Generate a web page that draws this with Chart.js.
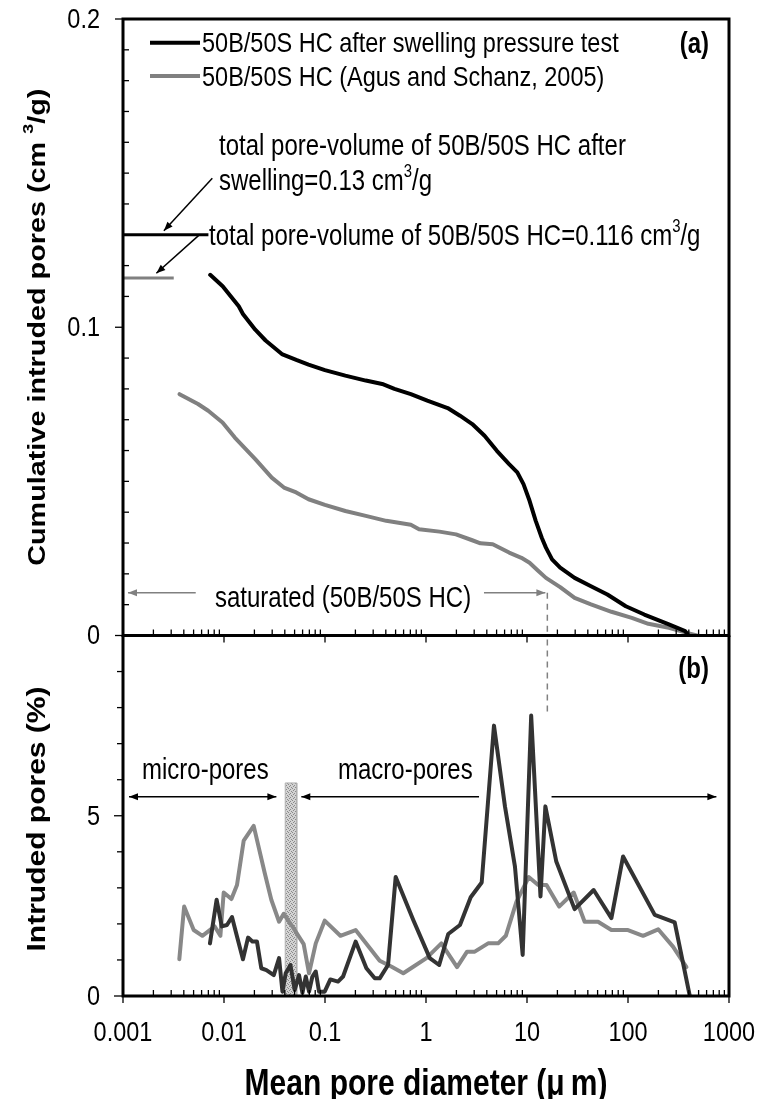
<!DOCTYPE html>
<html>
<head>
<meta charset="utf-8">
<script src="https://cdn.jsdelivr.net/npm/chart.js@4.4.1/dist/chart.umd.min.js"></script>
<style>
  html, body { margin: 0; padding: 0; background: #fff; }
  #wrap { position: relative; width: 760px; height: 1099px; }
  canvas { position: absolute; left: 0; top: 0; }
</style>
</head>
<body>
<div id="wrap">
  <canvas id="cumChart" width="760" height="1099"></canvas>
  <canvas id="incChart" width="760" height="1099"></canvas>
</div>
<script>
// Axis ticks
const X_MAJOR = [0.001, 0.01, 0.1, 1, 10, 100, 1000];
const X_LABELS = ['0.001', '0.01', '0.1', '1', '10', '100', '1000'];
const CUM_MAJOR = [0, 0.1, 0.2];
const CUM_LABELS = ['0', '0.1', '0.2'];
const INC_MAJOR = [0, 5];
const INC_LABELS = ['0', '5'];

// (a) cumulative intruded pores (cm3/g) vs mean pore diameter (um)
const swellCumX = [0.0073, 0.0097, 0.0140, 0.0154, 0.0204, 0.0258, 0.0374, 0.0519, 0.0687, 0.0998,
  0.159, 0.2535, 0.368, 0.487, 0.708, 1.03, 1.64, 2.17, 2.87, 3.80, 5.03, 6.65, 8.02, 9.23, 10.6,
  12.2, 14.0, 15.4, 17.7, 21.3, 29.6, 43.0, 62.5, 95.1, 145, 254, 368, 395];
const swellCumY = [0.117, 0.1133, 0.1068, 0.1043, 0.0992, 0.0957, 0.0913, 0.0894, 0.0879, 0.0861,
  0.0843, 0.0827, 0.0816, 0.0800, 0.0783, 0.0762, 0.0738, 0.0713, 0.0686, 0.0648, 0.0599, 0.0556, 0.0529, 0.0491, 0.0437,
  0.0372, 0.0317, 0.0285, 0.0247, 0.0220, 0.0187, 0.0160, 0.0133, 0.0095, 0.0068, 0.0036, 0.0014, 0];
const agusCumX = [0.00363, 0.00418, 0.00553, 0.00698, 0.00967, 0.0128, 0.0204, 0.0297, 0.0392, 0.0519,
  0.0687, 0.0998, 0.159, 0.2535, 0.404, 0.708, 0.853, 1.36, 1.98, 2.87, 3.46, 4.58, 6.65, 8.8, 10.6,
  12.8, 15.4, 21.3, 29.6, 43, 68.6, 109, 159, 254, 400, 480];
const agusCumY = [0.0783, 0.0772, 0.0751, 0.0729, 0.0691, 0.0642, 0.0572, 0.0512, 0.0480, 0.0464,
  0.0442, 0.0424, 0.0404, 0.0388, 0.0372, 0.0359, 0.0345, 0.0337, 0.0328, 0.0309, 0.0299, 0.0296, 0.0269, 0.0252, 0.0236,
  0.0211, 0.0187, 0.0157, 0.0122, 0.0101, 0.0077, 0.0057, 0.0038, 0.0025, 0.0007, 0];

// (b) intruded pores (%) vs mean pore diameter (um)
const swellIncX = [0.00726, 0.00845, 0.0095, 0.0107, 0.0120, 0.01345, 0.0154, 0.0173, 0.0191, 0.0212,
  0.0234, 0.0263, 0.0311, 0.0351, 0.0379, 0.0408, 0.0455, 0.0501, 0.0553, 0.0598, 0.0645, 0.0695, 0.075,
  0.081, 0.0873, 0.0993, 0.113, 0.1345, 0.151, 0.201, 0.257, 0.311, 0.348, 0.421, 0.501, 0.748, 1.09,
  1.35, 1.66, 2.17, 2.77, 3.56, 4.71, 6.05, 7.60, 9.06, 11.0, 13.6, 15.2, 19.5, 29.6, 45.7, 68.5, 89.4,
  184, 290, 409];
const swellIncY = [1.46, 2.67, 1.93, 1.97, 2.19, 1.65, 1.02, 1.62, 1.51, 1.51,
  0.77, 0.72, 0.58, 1.05, 0.12, 0.63, 0.86, 0.17, 0.58, 0.09, 0.54, 0.12, 0.54,
  0.68, 0.12, 0.12, 0.46, 0.40, 0.54, 1.51, 0.77, 0.49, 0.49, 0.86, 3.30, 2.11, 1.05,
  0.86, 1.72, 1.97, 2.74, 3.15, 7.50, 5.26, 3.59, 1.14, 7.78, 2.76, 5.26, 3.73, 2.41, 2.94, 2.16, 3.87,
  2.25, 2.04, 0];
const agusIncX = [0.00361, 0.00403, 0.00501, 0.00611, 0.00809, 0.00921, 0.00993, 0.01184, 0.01345, 0.01567,
  0.01968, 0.0253, 0.0294, 0.0351, 0.039, 0.0475, 0.0615, 0.0695, 0.081, 0.0993, 0.142, 0.201, 0.348,
  0.457, 0.596, 0.748, 1.01, 1.42, 2.03, 2.55, 3.04, 4.12, 5.18, 6.17, 7.87, 10.4, 12.9, 15.6, 20.8,
  29.0, 37.2, 50.5, 68.5, 100, 141, 199, 279, 379];
const agusIncY = [1.02, 2.48, 1.83, 1.67, 1.93, 1.67, 2.87, 2.69, 3.08, 4.31,
  4.72, 3.41, 2.67, 2.06, 2.28, 1.93, 1.44, 0.63, 1.46, 2.09, 1.67, 1.83, 0.98,
  0.81, 0.63, 0.81, 1.05, 1.46, 0.80, 1.23, 1.23, 1.46, 1.46, 1.67, 2.62, 3.30, 3.08, 3.08, 2.48,
  2.87, 2.06, 2.06, 1.83, 1.83, 1.67, 1.85, 1.37, 0.80];

// reference values marked on the plots
const TOTAL_SWELL = 0.13;
const TOTAL_AGUS = 0.116;
const SAT_LIMIT = 15.9;          // upper end of the saturated range (um)
const BOUNDARY_X = [0.0404, 0.0525];
const BOUNDARY_TOP = 5.91;

const FONT = '"Liberation Sans", Arial, Helvetica, sans-serif';
const STRETCH = 1.2;

const pts = (xs, ys) => xs.map((v, i) => ({ x: v, y: ys[i] }));

const xMinor = [];
X_MAJOR.slice(0, -1).forEach(d => { for (let k = 2; k <= 9; k++) xMinor.push(k * d); });

// text helper, parts may hold {sup: '3'}
function drawText(ctx, parts, x, y, o) {
  o = o || {};
  const size = o.size || 24;
  const weight = o.bold ? 'bold ' : '';
  if (typeof parts === 'string') parts = [parts];
  ctx.save();
  ctx.translate(x, y);
  ctx.scale(1, STRETCH);
  if (o.rotate) ctx.rotate(-Math.PI / 2);
  ctx.fillStyle = o.color || '#000';
  ctx.textBaseline = 'middle';
  ctx.textAlign = 'left';
  const segs = parts.map(p => {
    const sup = typeof p === 'object';
    const t = sup ? p.sup : p;
    ctx.font = weight + (sup ? size * 0.62 : size) + 'px ' + FONT;
    return { t, sup, w: ctx.measureText(t).width };
  });
  const total = segs.reduce((s, g) => s + g.w, 0);
  let cx = o.align === 'center' ? -total / 2 : (o.align === 'right' ? -total : 0);
  segs.forEach(g => {
    ctx.font = weight + (g.sup ? size * 0.62 : size) + 'px ' + FONT;
    ctx.fillText(g.t, cx, g.sup ? -size * 0.36 : 0);
    cx += g.w;
  });
  ctx.restore();
}

function arrow(ctx, x1, y1, x2, y2, color, headStart, headEnd) {
  ctx.save();
  ctx.strokeStyle = color;
  ctx.fillStyle = color;
  ctx.lineWidth = 1.5;
  ctx.beginPath();
  ctx.moveTo(x1, y1);
  ctx.lineTo(x2, y2);
  ctx.stroke();
  const head = (ax, ay, bx, by) => {
    const ang = Math.atan2(by - ay, bx - ax);
    ctx.beginPath();
    ctx.moveTo(bx, by);
    ctx.lineTo(bx - 9 * Math.cos(ang) + 3.5 * Math.sin(ang), by - 9 * Math.sin(ang) - 3.5 * Math.cos(ang));
    ctx.lineTo(bx - 9 * Math.cos(ang) - 3.5 * Math.sin(ang), by - 9 * Math.sin(ang) + 3.5 * Math.cos(ang));
    ctx.closePath();
    ctx.fill();
  };
  if (headEnd) head(x1, y1, x2, y2);
  if (headStart) head(x2, y2, x1, y1);
  ctx.restore();
}

function tick(ctx, x1, y1, x2, y2) {
  ctx.beginPath();
  ctx.moveTo(x1, y1);
  ctx.lineTo(x2, y2);
  ctx.stroke();
}

function xTicks(ctx, x, a) {
  ctx.lineWidth = 1.3;
  X_MAJOR.forEach(v => { const px = x.getPixelForValue(v); tick(ctx, px, a.bottom, px, a.bottom + 7); });
  xMinor.forEach(v => { const px = x.getPixelForValue(v); tick(ctx, px, a.bottom, px, a.bottom - 6); });
}

const cumDecor = {
  id: 'cumDecor',
  afterDatasetsDraw(chart) {
    const { ctx, chartArea: a, scales: { x, y } } = chart;
    ctx.save();
    ctx.strokeStyle = '#000';

    // dashed limit of saturated range
    ctx.save();
    ctx.strokeStyle = '#808080';
    ctx.lineWidth = 1.5;
    ctx.setLineDash([6, 5]);
    tick(ctx, x.getPixelForValue(SAT_LIMIT), y.getPixelForValue(0.0139), x.getPixelForValue(SAT_LIMIT), a.bottom);
    ctx.restore();

    // frame
    ctx.lineWidth = 3;
    ctx.lineJoin = 'miter';
    ctx.beginPath();
    ctx.moveTo(a.left, a.bottom);
    ctx.lineTo(a.left, a.top);
    ctx.lineTo(a.right, a.top);
    ctx.lineTo(a.right, a.bottom);
    ctx.moveTo(a.left - 1.5, a.bottom);
    ctx.lineTo(a.right + 1.5, a.bottom);
    ctx.stroke();

    // y ticks
    ctx.lineWidth = 1.3;
    for (let i = 1; i < 20; i++) {
      if (i % 10 === 0) continue;
      const py = y.getPixelForValue(i / 100);
      tick(ctx, a.left, py, a.left + 6, py);
    }
    CUM_MAJOR.forEach((v, i) => {
      const py = y.getPixelForValue(v);
      tick(ctx, a.left - 8, py, a.left, py);
      drawText(ctx, CUM_LABELS[i], a.left - 23, py + 1, { align: 'right', size: 23.5 });
    });
    xTicks(ctx, x, a);

    // titles and legend
    drawText(ctx, ['Cumulative intruded pores (cm ', { sup: '3' }, '/g)'], 38, (a.top + a.bottom) / 2, { bold: true, size: 24, rotate: true, align: 'center' });
    chart.data.datasets.slice(0, 2).forEach((ds, i) => {
      const ly = 42.7 + i * 33.3;
      ctx.save();
      ctx.strokeStyle = ds.borderColor;
      ctx.lineWidth = 4;
      tick(ctx, 150, ly, 200, ly);
      ctx.restore();
      drawText(ctx, ds.label, 202, ly + 2, { size: 23.5 });
    });
    drawText(ctx, '(a)', 709, 45, { bold: true, size: 24, align: 'right' });

    // pore volume notes
    drawText(ctx, 'total pore-volume of 50B/50S HC after', 219, 147);
    drawText(ctx, ['swelling=0.13 cm', { sup: '3' }, '/g'], 219, 182);
    drawText(ctx, ['total pore-volume of 50B/50S HC=0.116 cm', { sup: '3' }, '/g'], 209, 237);
    arrow(ctx, x.getPixelForValue(0.00766), y.getPixelForValue(0.1483), x.getPixelForValue(0.00254), y.getPixelForValue(0.1313), '#000', false, true);
    arrow(ctx, x.getPixelForValue(0.00566), y.getPixelForValue(0.1299), x.getPixelForValue(0.00214), y.getPixelForValue(0.1175), '#000', false, true);

    // saturated range
    const sy = y.getPixelForValue(0.0139);
    arrow(ctx, x.getPixelForValue(0.00525), sy, x.getPixelForValue(0.00112), sy, '#808080', false, true);
    arrow(ctx, x.getPixelForValue(3.75), sy, x.getPixelForValue(15.2), sy, '#808080', false, true);
    drawText(ctx, 'saturated (50B/50S HC)', 215, 599);
    ctx.restore();
  }
};

const incDecor = {
  id: 'incDecor',
  afterDatasetsDraw(chart) {
    const { ctx, chartArea: a, scales: { x, y } } = chart;
    ctx.save();
    ctx.strokeStyle = '#000';

    ctx.save();
    ctx.strokeStyle = '#808080';
    ctx.lineWidth = 1.5;
    ctx.setLineDash([6, 5]);
    tick(ctx, x.getPixelForValue(SAT_LIMIT), a.top + 4, x.getPixelForValue(SAT_LIMIT), y.getPixelForValue(7.8));
    ctx.restore();

    ctx.lineWidth = 3;
    ctx.beginPath();
    ctx.moveTo(a.left, a.top);
    ctx.lineTo(a.left, a.bottom);
    ctx.moveTo(a.right, a.top);
    ctx.lineTo(a.right, a.bottom);
    ctx.moveTo(a.left - 1.5, a.bottom);
    ctx.lineTo(a.right + 1.5, a.bottom);
    ctx.stroke();

    ctx.lineWidth = 1.3;
    for (let i = 1; i < 10; i++) {
      if (i % 5 === 0) continue;
      const py = y.getPixelForValue(i);
      tick(ctx, a.left - 6, py, a.left, py);
    }
    INC_MAJOR.forEach((v, i) => {
      const py = y.getPixelForValue(v);
      tick(ctx, a.left - 9, py, a.left, py);
      drawText(ctx, INC_LABELS[i], a.left - 23, py + 1, { align: 'right', size: 23.5 });
    });
    xTicks(ctx, x, a);
    X_MAJOR.forEach((v, i) => {
      drawText(ctx, X_LABELS[i], x.getPixelForValue(v), a.bottom + 37, { align: 'center', size: 23.5 });
    });

    drawText(ctx, 'Intruded pores (%)', 38, 819, { bold: true, size: 25, rotate: true, align: 'center' });
    drawText(ctx, 'Mean pore diameter (\u03bc\u2009m)', 426, 1085, { bold: true, size: 30, align: 'center' });
    drawText(ctx, '(b)', 709, 670, { bold: true, size: 24, align: 'right' });

    const ay = y.getPixelForValue(5.53);
    drawText(ctx, 'micro-pores', 142, 771);
    drawText(ctx, 'macro-pores', 338, 771);
    arrow(ctx, x.getPixelForValue(0.001147), ay, x.getPixelForValue(0.0330), ay, '#000', true, true);
    arrow(ctx, x.getPixelForValue(3.35), ay, x.getPixelForValue(0.0583), ay, '#000', false, true);
    arrow(ctx, x.getPixelForValue(17.5), ay, x.getPixelForValue(750), ay, '#000', false, true);
    ctx.restore();
  }
};

// stipple fill for the micro/macro boundary band
const pc = document.createElement('canvas');
pc.width = 4; pc.height = 4;
const pctx = pc.getContext('2d');
pctx.fillStyle = 'rgba(200,200,200,0.8)';
pctx.fillRect(0, 0, 4, 4);
pctx.fillStyle = 'rgba(120,120,120,0.8)';
[[0, 0], [2, 1], [1, 2], [3, 3]].forEach(p => pctx.fillRect(p[0], p[1], 1, 1));

const common = (pad) => ({
  responsive: false,
  animation: false,
  events: [],
  layout: { padding: pad },
  elements: { point: { radius: 0 }, line: { tension: 0, borderJoinStyle: 'round', borderCapStyle: 'round' } },
  plugins: { legend: { display: false }, tooltip: { enabled: false } }
});

const cumOpts = common({ left: 123, top: 19, right: 31, bottom: 463.5 });
cumOpts.scales = {
  x: { type: 'logarithmic', min: 0.001, max: 1000, display: false },
  y: { min: 0, max: 0.2, display: false }
};
new Chart(document.getElementById('cumChart'), {
  type: 'line',
  data: {
    datasets: [
      { label: '50B/50S HC after swelling pressure test', data: pts(swellCumX, swellCumY), borderColor: '#000', borderWidth: 4 },
      { label: '50B/50S HC (Agus and Schanz, 2005)', data: pts(agusCumX, agusCumY), borderColor: '#808080', borderWidth: 4 },
      { data: [{ x: 0.001, y: TOTAL_SWELL }, { x: 0.00701, y: TOTAL_SWELL }], borderColor: '#000', borderWidth: 3, borderCapStyle: 'butt' },
      { data: [{ x: 0.001, y: TOTAL_AGUS }, { x: 0.00318, y: TOTAL_AGUS }], borderColor: '#808080', borderWidth: 3, borderCapStyle: 'butt' }
    ]
  },
  options: cumOpts,
  plugins: [cumDecor]
});

const incOpts = common({ left: 123, top: 635.5, right: 31, bottom: 103 });
incOpts.scales = {
  x: { type: 'logarithmic', min: 0.001, max: 1000, display: false },
  y: { min: 0, max: 10, display: false }
};
new Chart(document.getElementById('incChart'), {
  type: 'line',
  data: {
    datasets: [
      { label: 'after swelling', data: pts(swellIncX, swellIncY), borderColor: '#333333', borderWidth: 4 },
      { label: 'Agus and Schanz', data: pts(agusIncX, agusIncY), borderColor: '#888888', borderWidth: 4 },
      {
        label: 'boundary',
        data: [{ x: BOUNDARY_X[0], y: 0 }, { x: BOUNDARY_X[0], y: BOUNDARY_TOP }, { x: BOUNDARY_X[1], y: BOUNDARY_TOP }, { x: BOUNDARY_X[1], y: 0 }],
        borderColor: '#b0b0b0', borderWidth: 1, borderJoinStyle: 'miter', borderCapStyle: 'butt',
        backgroundColor: pctx.createPattern(pc, 'repeat'), fill: 'origin'
      }
    ]
  },
  options: incOpts,
  plugins: [incDecor]
});
</script>
</body>
</html>
